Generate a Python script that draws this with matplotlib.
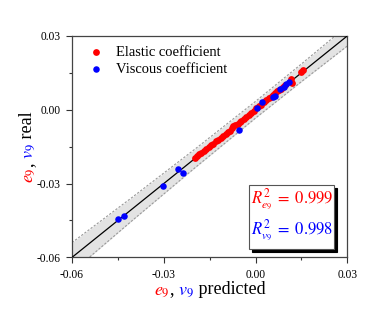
import numpy as np
import matplotlib.pyplot as plt
from matplotlib.patches import Rectangle

plt.rcParams['font.family'] = ['Liberation Serif', 'DejaVu Serif']
plt.rcParams['mathtext.fontset'] = 'stix'
plt.rcParams['axes.unicode_minus'] = False

# Elastic coefficient e9 (predicted, real)
red_pred = [-0.0199, -0.0192, -0.0184, -0.0177, -0.0169, -0.0161, -0.0153, -0.0146,
            -0.0138, -0.0130, -0.0122, -0.0114, -0.0106, -0.0098, -0.0091, -0.0084,
            -0.0078, -0.0074, -0.0066, -0.0059, -0.0052, -0.0046, -0.0039, -0.0031,
            -0.0023, -0.0014, -0.0006, 0.0003, 0.0011, 0.0019, 0.0027, 0.0035,
            0.0043, 0.0050, 0.0057, 0.0063, 0.0069, 0.0076, 0.0083, 0.0090,
            0.0097, 0.0116, 0.0118, 0.0148, 0.0156]
red_real = [-0.0195, -0.0189, -0.0181, -0.0174, -0.0168, -0.0159, -0.0152, -0.0145,
            -0.0139, -0.0129, -0.0124, -0.0113, -0.0105, -0.0097, -0.0090, -0.0085,
            -0.0076, -0.0066, -0.0064, -0.0058, -0.0050, -0.0044, -0.0038, -0.0031,
            -0.0021, -0.0012, -0.0004, 0.0008, 0.0013, 0.0021, 0.0030, 0.0038,
            0.0046, 0.0053, 0.0060, 0.0067, 0.0075, 0.0080, 0.0086, 0.0094,
            0.0099, 0.0124, 0.0107, 0.0154, 0.0160]

# Viscous coefficient v9 (predicted, real)
blue_pred = [-0.0449, -0.0430, -0.0303, -0.0253, -0.0238, -0.0054, 0.0005, 0.0020,
             0.0058, 0.0063, 0.0080, 0.0092, 0.0101, 0.0108]
blue_real = [-0.0446, -0.0431, -0.0308, -0.0240, -0.0256, -0.0081, 0.0007, 0.0030,
             0.0050, 0.0055, 0.0084, 0.0092, 0.0104, 0.0113]

# ideal line and band half-widths
fit_x = [-0.06, 0.03]
fit_y = [-0.06, 0.03]
band_x = [-0.06, -0.04, -0.02, 0.0, 0.015, 0.03]
band_half = [0.0060, 0.0047, 0.0038, 0.0034, 0.0036, 0.0041]

r2_e = 0.999
r2_v = 0.998

fig = plt.figure(figsize=(3.89, 3.09), dpi=100)
ax = fig.add_axes([0.185, 0.167, 0.708, 0.717])

bx = np.array(band_x)
bh = np.array(band_half)
ax.fill_between(bx, bx - bh, bx + bh, color='#e3e3e3', lw=0, zorder=1)
ax.plot(bx, bx + bh, color='#999999', lw=0.8, ls=(0, (2, 1.5)), zorder=2)
ax.plot(bx, bx - bh, color='#999999', lw=0.8, ls=(0, (2, 1.5)), zorder=2)
ax.plot(fit_x, fit_y, color='black', lw=0.9, zorder=3)

ax.scatter(red_pred, red_real, s=24, color='#ff0000', lw=0, zorder=4, label='Elastic coefficient')
ax.scatter(blue_pred, blue_real, s=22, color='#0000ff', lw=0, zorder=5, label='Viscous coefficient')

ax.set_xlim(-0.06, 0.03)
ax.set_ylim(-0.06, 0.03)
ticks = [-0.06, -0.03, 0.0, 0.03]
ax.set_xticks(ticks)
ax.set_yticks(ticks)
ax.set_xticklabels(['%.2f' % t for t in ticks])
ax.set_yticklabels(['%.2f' % t for t in ticks])
ax.set_xticks([-0.045, -0.015, 0.015], minor=True)
ax.set_yticks([-0.045, -0.015, 0.015], minor=True)
ax.tick_params(which='major', direction='out', length=4.5, width=0.8, labelsize=8.3, color='#333333')
ax.tick_params(which='minor', direction='out', length=2.5, width=0.8, color='#333333')
for s in ax.spines.values():
    s.set_color('#444444')
    s.set_linewidth(0.9)

leg = ax.legend(loc='upper left', frameon=False, fontsize=10.5, handletextpad=0.6,
                borderaxespad=0.3, labelspacing=0.25, handlelength=1.5,
                bbox_to_anchor=(0.01, 1.0))

# R^2 box with shadow
ax.add_patch(Rectangle((0.654, 0.024), 0.308, 0.289, transform=ax.transAxes,
                       facecolor='black', edgecolor='black', lw=0.8, zorder=6))
ax.add_patch(Rectangle((0.643, 0.037), 0.308, 0.289, transform=ax.transAxes,
                       facecolor='white', edgecolor='#555555', lw=0.8, zorder=7))
ax.text(0.650, 0.262, r'$R^2_{e_9}\;=\;%.3f$' % r2_e, transform=ax.transAxes, color='#ff0000',
        fontsize=12, va='center', ha='left', zorder=8)
ax.text(0.650, 0.122, r'$R^2_{v_9}\;=\;%.3f$' % r2_v, transform=ax.transAxes, color='#0000ff',
        fontsize=12, va='center', ha='left', zorder=8)


def colored_label(pieces, x, y, rotation=0, fontsize=13):
    """Place coloured text pieces one after another, centred on (x, y) in pixels."""
    renderer = fig.canvas.get_renderer()
    widths = []
    for txt, col in pieces:
        t = fig.text(0, 0, txt, fontsize=fontsize)
        widths.append(t.get_window_extent(renderer).width)
        t.remove()
    total = sum(widths)
    pos = -total / 2
    W, H = fig.bbox.width, fig.bbox.height
    for (txt, col), w in zip(pieces, widths):
        if rotation == 0:
            px, py = x + pos, y
        else:
            px, py = x, y + pos
        fig.text(px / W, py / H, txt, color=col, fontsize=fontsize, rotation=rotation,
                 rotation_mode='anchor', ha='left', va='baseline')
        pos += w


fig.canvas.draw()
label_pieces = [(r'$e_9$', '#ff0000'), (r',', '#000000'), (r'$\ v_9$', '#0000ff'), (' real', '#000000')]
colored_label(label_pieces, 32, 309 - 147, rotation=90, fontsize=13)
label_pieces = [(r'$e_9$', '#ff0000'), (r',', '#000000'), (r'$\ v_9$', '#0000ff'), (' predicted', '#000000')]
colored_label(label_pieces, 210, 309 - 294, rotation=0, fontsize=13)

fig.savefig('out.png', dpi=100)
